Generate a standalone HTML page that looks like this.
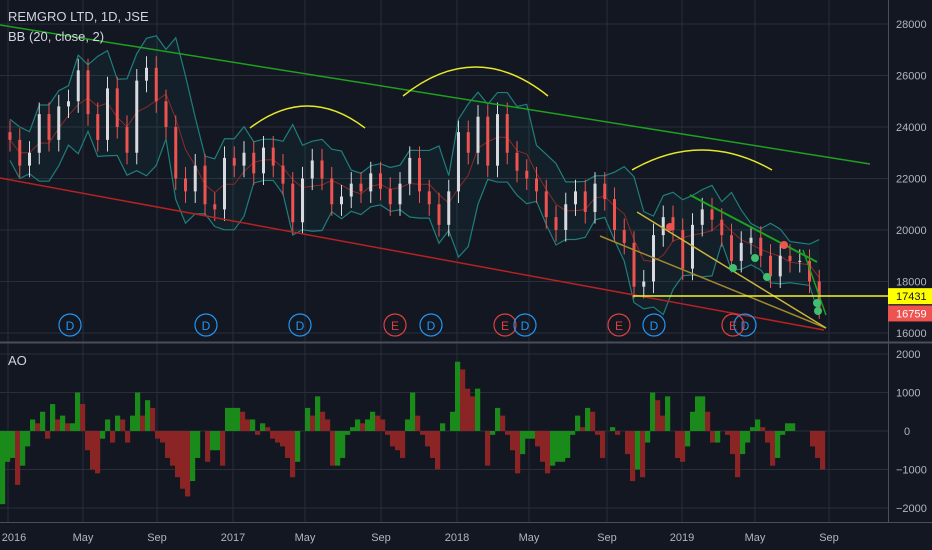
<!DOCTYPE html>
<html><head><meta charset="utf-8"><style>
html,body{margin:0;padding:0;background:#131722;width:932px;height:550px;overflow:hidden}
svg{display:block;font-family:"Liberation Sans",sans-serif}
</style></head><body>
<svg id="chart" width="932" height="550" viewBox="0 0 932 550">
<rect width="932" height="550" fill="#131722"/>
<g id="grid"></g>
<g id="bb"></g>
<g id="candles"></g>
<g id="ao"></g>
<g id="draw"></g>
<g id="axes"></g>
<text x="8" y="21" fill="#d1d4dc" font-size="13">REMGRO LTD, 1D, JSE</text>
<text x="8" y="41" fill="#d1d4dc" font-size="13">BB (20, close, 2)</text>
<text x="8" y="365" fill="#d1d4dc" font-size="13">AO</text>
</svg>
<script>
const closes=[23500,22500,23000,24500,23500,24800,25000,26200,24500,23500,25500,24000,23000,25800,26300,25000,24000,22000,21500,22500,21000,20800,22800,22500,23000,22200,23200,22500,21800,20300,22000,22700,22000,21000,21300,21800,21500,22200,21600,21000,21800,22800,21500,21000,20200,21500,23800,23000,24400,22500,24500,23000,22300,22000,21500,20500,20000,21000,21500,20700,21800,21200,20000,19500,17800,18000,19800,20500,20000,18500,20200,20800,20400,19800,18800,19500,19700,19000,18200,19000,18800,18800,18000,17000];
const aoValues=[-1900,-800,-700,-1400,-900,-400,300,200,500,-200,700,300,400,200,200,1000,700,-500,-1000,-1100,-200,300,-300,400,300,-300,400,1000,400,800,600,-200,-300,-700,-900,-1200,-1500,-1700,-1300,-700,0,-800,-500,-500,-900,600,600,600,500,300,300,-100,200,100,-200,-300,-400,-700,-1200,-800,0,600,400,900,500,300,-900,-900,-700,-100,100,300,200,300,500,400,300,-100,-400,-500,-700,300,1000,400,-100,-400,-700,-1000,200,0,500,1800,1600,1100,900,1100,0,-900,-100,600,400,-100,-500,-1100,-600,-200,-200,-400,-800,-1100,-900,-800,-800,-700,-100,400,100,600,500,-100,-700,0,100,-100,0,-600,-1300,-1000,-1200,-300,1000,800,400,900,0,-700,-800,-400,500,900,900,500,-300,-300,0,-100,-600,-1200,-600,-300,100,300,100,-300,-900,-700,-100,200,200,0,0,0,-400,-700,-1000];
const priceTicks=[16000,18000,20000,22000,24000,26000,28000];
const aoTicks=[2000,1000,0,-1000,-2000];
const timeLabels=["2016","May","Sep","2017","May","Sep","2018","May","Sep","2019","May","Sep"];
const timeX=[8,83,157,233,305,381,457,529,607,682,755,829];
const lastPrice=17431, prevLow=16759;

const NS="http://www.w3.org/2000/svg";
function el(p,t,a){const e=document.createElementNS(NS,t);for(const k in a)e.setAttribute(k,a[k]);p.appendChild(e);return e;}
const py=p=>333-(p-16000)/2000*51.5;
const ay=v=>431-v/1000*38.5;
const cx=i=>10+i*9.75;
const ax=i=>i*5;
const G=id=>document.getElementById(id);

const grid=G('grid');
priceTicks.forEach(t=>{const l=el(grid,'line',{x1:0,x2:888,y1:py(t),y2:py(t),stroke:'#2a2e39'});});
aoTicks.forEach(t=>{const l=el(grid,'line',{x1:0,x2:888,y1:ay(t),y2:ay(t),stroke:'#2a2e39'});});
timeX.forEach(x=>{const l=el(grid,'line',{x1:x,x2:x,y1:0,y2:522,stroke:'#2a2e39'});});

const bb=G('bb');const N=4;let up=[],lo=[],mid=[];
closes.forEach((c,i)=>{const s=closes.slice(Math.max(0,i-N+1),i+1);const m=s.reduce((a,b)=>a+b,0)/s.length;const sd=Math.sqrt(s.reduce((a,b)=>a+(b-m)*(b-m),0)/s.length);const w=Math.max(sd*2,800);up.push([cx(i),py(m+w)]);lo.push([cx(i),py(m-w)]);mid.push([cx(i),py(m)]);});
const pts=a=>a.map(p=>p.join(',')).join(' ');
let f=el(bb,'polygon',{points:pts(up)+' '+pts(lo.slice().reverse()),fill:'rgba(38,166,154,0.06)'});
let u=el(bb,'polyline',{points:pts(up),fill:'none',stroke:'#1e7f7c','stroke-width':1.2});
let lw=el(bb,'polyline',{points:pts(lo),fill:'none',stroke:'#1e7f7c','stroke-width':1.2});
let md=el(bb,'polyline',{points:pts(mid),fill:'none',stroke:'#8a2a2a','stroke-width':1});

const cg=G('candles');
closes.forEach((c,i)=>{const o=i?closes[i-1]:c+300;const col=c>=o?'#d8dadf':'#ef5350';const hi=Math.max(o,c)+450,lo2=Math.min(o,c)-450;const x=cx(i);
const w=el(cg,'line',{x1:x,x2:x,y1:py(hi),y2:py(lo2),stroke:col,'stroke-width':1});
const b=el(cg,'rect',{x:x-1.5,width:3,y:py(Math.max(o,c)),height:Math.max(1,Math.abs(py(o)-py(c))),fill:col});});

const ag=G('ao');
aoValues.forEach((v,i)=>{const col=(i===0||v>=aoValues[i-1])?'#1a8a1a':'#8b2424';const y0=ay(0),y1=ay(v);
const r=el(ag,'rect',{x:ax(i),width:5.2,y:Math.min(y0,y1),height:Math.abs(y1-y0),fill:col});});

const dg=G('draw');
function ln(x1,y1,x2,y2,c,n,w){const l=el(dg,'line',{x1,y1,x2,y2,stroke:c,'stroke-width':w||1.5});}
ln(0,25,870,164,'#1fa01f','upper-trendline');
ln(0,178,824,330,'#b52222','lower-trendline');
ln(600,236,826,328,'#a08a2a','fan-line-1');
ln(637,212,826,328,'#c9b53a','fan-line-2');
ln(690,195,817,262,'#1fa01f','wedge-top-line',2);
ln(803,250,826,315,'#1fa01f','breakdown-line');
ln(633,296,888,296,'#f5f52a','support-line',1.5);
function arc(x1,x2,y,pk,n){const p=el(dg,'path',{d:`M${x1},${y} Q${(x1+x2)/2},${2*pk-y} ${x2},${y}`,fill:'none',stroke:'#e8e82a','stroke-width':1.5});}
arc(250,365,128,106,'arc-1');arc(403,548,96,67,'arc-2');arc(632,772,170,150,'arc-3');
[[733,268,'#3fbf6f'],[755,258,'#3fbf6f'],[767,277,'#3fbf6f'],[817,303,'#3fbf6f'],[818,311,'#3fbf6f'],[670,227,'#ef5350'],[784,245,'#ef5350']].forEach(d=>{const c=el(dg,'circle',{cx:d[0],cy:d[1],r:4,fill:d[2]});});
[[70,'D'],[206,'D'],[300,'D'],[395,'E'],[431,'D'],[505,'E'],[525,'D'],[619,'E'],[654,'D'],[745,'D'],[733,'E']].forEach(m=>{const c=m[1]=='E'?'#e0403c':'#2196f3';
const ci=el(dg,'circle',{cx:m[0],cy:325,r:11,fill:'none',stroke:c,'stroke-width':1.2});
const t=el(dg,'text',{x:m[0],y:330,fill:c,'font-size':12,'text-anchor':'middle'});t.textContent=m[1];});

const xg=G('axes');
let a1=el(xg,'rect',{x:888,y:0,width:44,height:550,fill:'#131722'});
let a2=el(xg,'rect',{x:0,y:522,width:932,height:28,fill:'#131722'});
let sep=el(xg,'line',{x1:0,x2:932,y1:342.5,y2:342.5,stroke:'#4a4e59','stroke-width':2});
let vl=el(xg,'line',{x1:888.5,x2:888.5,y1:0,y2:522,stroke:'#4a4e59'});
let hl=el(xg,'line',{x1:0,x2:932,y1:522.5,y2:522.5,stroke:'#4a4e59'});
priceTicks.forEach(t=>{const l=el(xg,'text',{x:896,y:py(t)+4,fill:'#b2b5be','font-size':11});l.textContent=t;});
aoTicks.forEach(t=>{const l=el(xg,'text',{x:t==0?904:896,y:ay(t)+4,fill:'#b2b5be','font-size':11});l.textContent=t<0?'\u2212'+(-t):t;});
timeLabels.forEach((s,i)=>{const l=el(xg,'text',{x:i==0?Math.max(timeX[i],14):timeX[i],y:541,fill:'#b2b5be','font-size':11,'text-anchor':'middle'});l.textContent=s;});
let lp=el(xg,'rect',{x:888,y:py(lastPrice)-8,width:44,height:16,fill:'#ffff00'});
let lt=el(xg,'text',{x:896,y:py(lastPrice)+4,fill:'#131722','font-size':11});lt.textContent=lastPrice;
let pp=el(xg,'rect',{x:888,y:py(prevLow)-8,width:44,height:16,fill:'#ef5350'});
let pt=el(xg,'text',{x:896,y:py(prevLow)+4,fill:'#ffffff','font-size':11});pt.textContent=prevLow;
</script>
</body></html>
